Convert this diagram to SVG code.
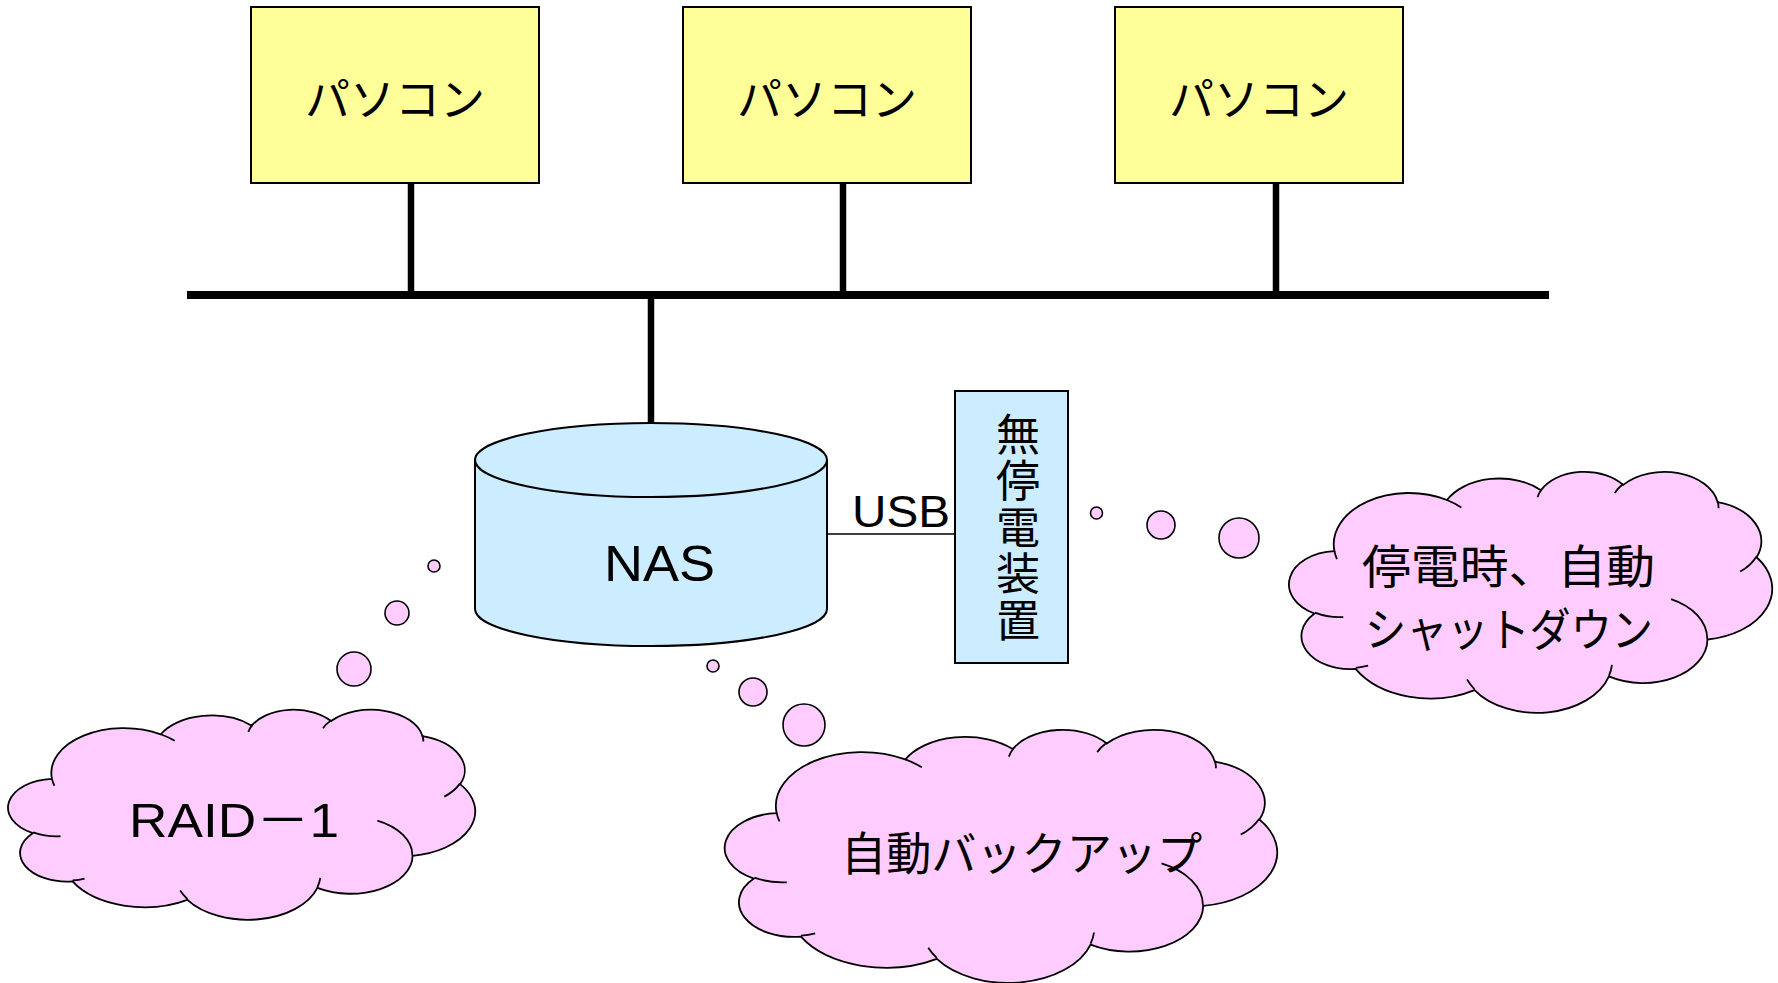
<svg xmlns="http://www.w3.org/2000/svg" xmlns:xlink="http://www.w3.org/1999/xlink" width="1778" height="983" viewBox="0 0 1778 983">
  <style>
    .pc { fill: #FFFF99; stroke: #000; stroke-width: 2; }
    .dev { fill: #CCECFF; stroke: #000; stroke-width: 2; }
    .bubble { fill: #FFCCFF; stroke: #000; stroke-width: 1.6; }
    .cloud-body { fill: #FFCCFF; stroke: #000; stroke-width: 1.8; vector-effect: non-scaling-stroke; }
    .cloud-fold { fill: none; stroke: #000; stroke-width: 1.8; vector-effect: non-scaling-stroke; }
    .bus { stroke: #000; stroke-width: 8; fill: none; }
    .drop { stroke: #000; stroke-width: 6.5; fill: none; }
    .usb { stroke: #000; stroke-width: 1.6; fill: none; }
    .jp { font-family: 'Noto Sans CJK JP', sans-serif; fill: #000; }
    .lat { font-family: 'Liberation Sans', 'Noto Sans CJK JP', sans-serif; fill: #000; }
  </style>
  <defs>
    <!-- cloud outline in a 43200 x 43200 unit box -->
    <g id="cloud">
      <path class="cloud-body" d="M3900 14370 A6753 9190 0 0 1 14005 5202 A5333 7267 0 0 1 22456 3432 A4365 5945 0 0 1 29833 2481 A4857 6595 0 0 1 38318 5576 A5333 7273 0 0 1 41819 15459 A6775 9220 0 0 1 37405 30203 A5785 7867 0 0 1 28556 36813 A6752 9215 0 0 1 16481 39264 A7720 10543 0 0 1 5805 35470 A4360 5918 0 0 1 2114 25548 A4345 5945 0 0 1 3900 14370 Z"/>
      <path class="cloud-fold" d="M4693 26177 A4345 5945 0 0 1 2160 25380 M6928 34899 A4360 5918 0 0 1 5820 35281 M16478 39090 A6752 9215 0 0 1 15810 37350 M28827 34751 A6752 9215 0 0 1 28560 36660 M34129 22954 A5785 7867 0 0 1 37380 30090 M41798 15354 A5333 7273 0 0 1 40350 18030 M38324 5426 A4857 6595 0 0 1 38400 6690 M29078 3952 A4857 6595 0 0 1 29820 2341 M22141 4720 A4365 5945 0 0 1 22500 3330 M14000 5192 A6753 9190 0 0 1 15300 6541 M4127 15789 A6753 9190 0 0 1 3900 14370"/>
    </g>
  </defs>

  <!-- network wiring -->
  <g id="connectors">
    <line class="bus" x1="187" y1="295" x2="1549" y2="295"/>
    <line class="drop" x1="411" y1="183" x2="411" y2="295"/>
    <line class="drop" x1="843" y1="183" x2="843" y2="295"/>
    <line class="drop" x1="1276" y1="183" x2="1276" y2="295"/>
    <line class="drop" x1="651" y1="295" x2="651" y2="424"/>
    <line class="usb" x1="827" y1="534" x2="955" y2="534"/>
  </g>

  <g id="pc1">
    <rect class="pc" x="251" y="7" width="288" height="176"/>
    <text class="jp" x="395" y="96" font-size="45" text-anchor="middle" dominant-baseline="central">パソコン</text>
  </g>
  <g id="pc2">
    <rect class="pc" x="683" y="7" width="288" height="176"/>
    <text class="jp" x="827" y="96" font-size="45" text-anchor="middle" dominant-baseline="central">パソコン</text>
  </g>
  <g id="pc3">
    <rect class="pc" x="1115" y="7" width="288" height="176"/>
    <text class="jp" x="1259" y="96" font-size="45" text-anchor="middle" dominant-baseline="central">パソコン</text>
  </g>

  <g id="nas">
    <path class="dev" d="M475 460 V609 A176 37 0 0 0 827 609 V460 Z"/>
    <ellipse class="dev" cx="651" cy="460" rx="176" ry="37"/>
    <text class="lat" x="604" y="581" font-size="50" textLength="111" lengthAdjust="spacingAndGlyphs">NAS</text>
  </g>

  <g id="usb-label">
    <text class="lat" x="852" y="527" font-size="44" textLength="98" lengthAdjust="spacingAndGlyphs">USB</text>
  </g>

  <g id="ups">
    <rect class="dev" x="955" y="391" width="113" height="272"/>
    <text class="jp" x="1018" y="412" font-size="44" writing-mode="vertical-rl" letter-spacing="2.5">無停電装置</text>
  </g>

  <g id="raid-note">
    <ellipse class="bubble" cx="434" cy="566" rx="6" ry="6"/>
    <ellipse class="bubble" cx="397" cy="613" rx="12" ry="12"/>
    <ellipse class="bubble" cx="354" cy="669" rx="17" ry="17"/>
    <use xlink:href="#cloud" transform="translate(10 709) scale(0.010764 0.004861)"/>
    <text class="lat" x="129" y="837" font-size="48" textLength="210" lengthAdjust="spacingAndGlyphs">RAID－1</text>
  </g>

  <g id="backup-note">
    <ellipse class="bubble" cx="713" cy="666" rx="6" ry="6"/>
    <ellipse class="bubble" cx="753" cy="692" rx="14" ry="14"/>
    <ellipse class="bubble" cx="804" cy="725" rx="21" ry="21"/>
    <use xlink:href="#cloud" transform="translate(727 729) scale(0.012731 0.005856)"/>
    <text class="jp" x="841" y="850" font-size="46" textLength="361" lengthAdjust="spacingAndGlyphs" dominant-baseline="central">自動バックアップ</text>
  </g>

  <g id="shutdown-note">
    <ellipse class="bubble" cx="1096.5" cy="513" rx="6" ry="6"/>
    <ellipse class="bubble" cx="1161" cy="525" rx="14" ry="14"/>
    <ellipse class="bubble" cx="1239" cy="538" rx="20" ry="20"/>
    <use xlink:href="#cloud" transform="translate(1291 471) scale(0.011134 0.005579)"/>
    <text class="jp" x="1362" y="563" font-size="46" textLength="293" lengthAdjust="spacingAndGlyphs" dominant-baseline="central">停電時、自動</text>
    <text class="jp" x="1365" y="626" font-size="46" textLength="288" lengthAdjust="spacingAndGlyphs" dominant-baseline="central">シャットダウン</text>
  </g>
</svg>
